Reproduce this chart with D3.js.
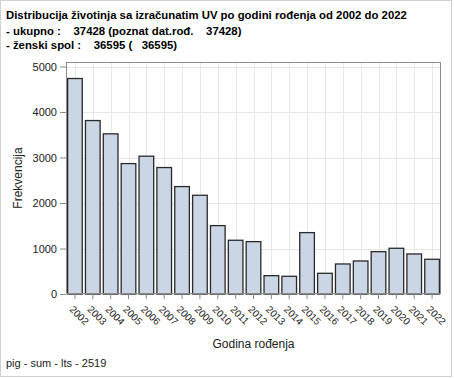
<!DOCTYPE html>
<html>
<head>
<meta charset="utf-8">
<script src="https://cdn.jsdelivr.net/npm/d3@7"></script>
<style>
  body { margin: 0; background: #fff; }
  text { font-family: Arial, "Liberation Sans", sans-serif; }
</style>
</head>
<body>
<svg id="chart" width="454" height="378"></svg>
<script>
const years = ["2002","2003","2004","2005","2006","2007","2008","2009","2010","2011","2012",
               "2013","2014","2015","2016","2017","2018","2019","2020","2021","2022"];
const counts = [4736, 3812, 3520, 2866, 3029, 2779, 2361, 2170, 1503, 1181, 1151,
                403, 389, 1349, 455, 660, 726, 931, 1005, 880, 763];
const yTicks = [0, 1000, 2000, 3000, 4000, 5000];
const titleLines = [
  "Distribucija životinja sa izračunatim UV po godini rođenja od 2002 do 2022",
  "- ukupno :    37428 (poznat dat.rođ.    37428)",
  "- ženski spol :    36595 (   36595)"
];

const margin = { top: 62, right: 13, bottom: 84, left: 66 },
      W = 454, H = 378,
      width = W - margin.left - margin.right,
      height = H - margin.top - margin.bottom;

const svg = d3.select("#chart");

// outer border
svg.append("rect")
    .attr("x", 0.5).attr("y", 0.5)
    .attr("width", 451).attr("height", 376)
    .attr("fill", "#fff").attr("stroke", "#d0d0d0");

// title
const titles = svg.selectAll(".title")
  .data(titleLines)
  .enter().append("text")
    .attr("class", "title")
    .attr("x", 6)
    .attr("y", (d, i) => [19, 34.5, 49][i])
    .attr("font-size", 12)
    .attr("font-weight", "bold")
    .style("white-space", "pre")
    .attr("xml:space", "preserve")
    .text(d => d);
// fit first line to the width it has in the original (~401px)
const len0 = titles.node().getComputedTextLength();
titles.attr("font-size", Math.min(12, 12 * 401 / len0));

const g = svg.append("g")
    .attr("transform", "translate(" + margin.left + "," + margin.top + ")");

const x = d3.scaleBand()
    .domain(years)
    .range([0, width])
    .paddingInner(0.18)
    .paddingOuter(0.09);

const y = d3.scaleLinear()
    .domain([0, 5000])
    .range([height, 4.5]);

// grid
g.selectAll(".hgrid")
  .data(yTicks)
  .enter().append("line")
    .attr("x1", 0).attr("x2", width)
    .attr("y1", d => Math.round(y(d)) + 0.5)
    .attr("y2", d => Math.round(y(d)) + 0.5)
    .attr("stroke", "#e8e8e8");

g.selectAll(".vgrid")
  .data(years)
  .enter().append("line")
    .attr("x1", d => Math.round(x(d) + x.bandwidth() / 2) + 0.5)
    .attr("x2", d => Math.round(x(d) + x.bandwidth() / 2) + 0.5)
    .attr("y1", 0).attr("y2", height)
    .attr("stroke", "#e8e8e8");

// bars
g.selectAll(".bar")
  .data(counts)
  .enter().append("rect")
    .attr("x", (d, i) => x(years[i]))
    .attr("y", d => y(d))
    .attr("width", x.bandwidth())
    .attr("height", d => height - y(d))
    .attr("fill", "#cad5e5")
    .attr("stroke", "#2a2a2a")
    .attr("stroke-width", 1.3);

// frame
g.append("rect")
    .attr("x", 0.5).attr("y", 0.5)
    .attr("width", width - 1).attr("height", height - 1)
    .attr("fill", "none")
    .attr("stroke", "#8c8c8c");

// axes
const yAxis = d3.axisLeft(y).tickValues(yTicks).tickFormat(d3.format("d")).tickSize(6).tickPadding(3);
const gY = g.append("g").call(yAxis);
gY.select(".domain").remove();
gY.selectAll("line").attr("stroke", "#8c8c8c");
gY.selectAll("text").attr("font-size", 11).attr("fill", "#222")
    .style("font-family", "Arial, 'Liberation Sans', sans-serif");

const xAxis = d3.axisBottom(x).tickSize(5).tickPadding(4);
const gX = g.append("g")
    .attr("transform", "translate(0," + height + ")")
    .call(xAxis);
gX.select(".domain").remove();
gX.selectAll("line").attr("stroke", "#8c8c8c");
gX.selectAll("text")
    .attr("font-size", 10).attr("fill", "#222")
    .style("font-family", "Arial, 'Liberation Sans', sans-serif")
    .attr("text-anchor", "start")
    .attr("dy", null)
    .attr("y", 0)
    .attr("transform", "translate(-6,16) rotate(45)");

// axis titles
svg.append("text")
    .attr("transform", "translate(22," + (margin.top + height / 2) + ") rotate(-90)")
    .attr("text-anchor", "middle")
    .attr("font-size", 12)
    .attr("fill", "#222")
    .text("Frekvencija");

svg.append("text")
    .attr("x", margin.left + width / 2)
    .attr("y", 348)
    .attr("text-anchor", "middle")
    .attr("font-size", 12)
    .attr("fill", "#222")
    .text("Godina rođenja");

// footer
svg.append("text")
    .attr("x", 6)
    .attr("y", 367)
    .attr("font-size", 11)
    .attr("fill", "#222")
    .text("pig - sum - lts - 2519");
</script>
</body>
</html>
